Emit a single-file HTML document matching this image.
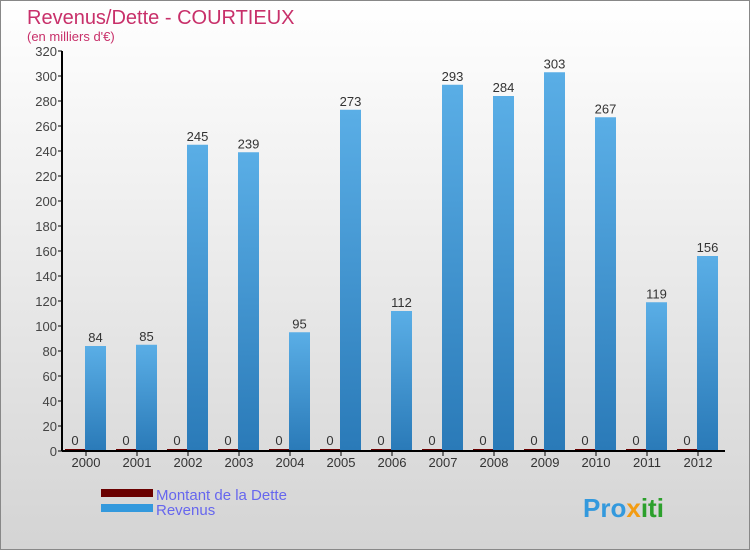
<!DOCTYPE html>
<html><head><meta charset="utf-8"><style>
body{margin:0}
#c{width:748px;height:548px;border:1px solid #888;position:relative;background:linear-gradient(#fff,#d4d4d4);font-family:"Liberation Sans","DejaVu Sans",sans-serif;overflow:hidden}
</style></head><body>
<div id="c">
<svg id="s" width="748" height="548">
<text x="26" y="23" font-size="20" fill="#c8306a">Revenus/Dette - COURTIEUX</text>
<text x="26" y="40" font-size="13" fill="#c8306a">(en milliers d'€)</text>
<g id="g"></g>
<rect x="100" y="488" width="52" height="8" fill="#6a0000"/>
<rect x="100" y="503" width="52" height="8" fill="#3399dd"/>
<text x="155" y="499" font-size="15" fill="#6666ee">Montant de la Dette</text>
<text x="155" y="514" font-size="15" fill="#6666ee">Revenus</text>
<text x="582" y="516" font-size="26" font-weight="600" fill="#3399dd">Pro<tspan fill="#f39c12">x</tspan><tspan fill="#2ca02c">iti</tspan></text>
</svg></div>
<script>
const years=["2000","2001","2002","2003","2004","2005","2006","2007","2008","2009","2010","2011","2012"];
const revenus=[84,85,245,239,95,273,112,293,284,303,267,119,156];
const dette=[0,0,0,0,0,0,0,0,0,0,0,0,0];
const ticks=[0,20,40,60,80,100,120,140,160,180,200,220,240,260,280,300,320];
const NS="http://www.w3.org/2000/svg",g=document.getElementById('g');
const x0=61,step=51,y=v=>450-v*400/320;
function mk(t,a){const e=document.createElementNS(NS,t);for(const k in a)e.setAttribute(k,a[k]);g.appendChild(e);return e;}
const defs=mk('defs',{});defs.innerHTML='<linearGradient id="bg" x1="0" y1="0" x2="0" y2="1"><stop offset="0" stop-color="#5aaee6"/><stop offset="1" stop-color="#2a7ab8"/></linearGradient>';
ticks.forEach(t=>{const l=mk('line',{x1:x0-4,x2:x0,y1:y(t),y2:y(t),stroke:'#000'});

const tx=mk('text',{x:x0-5,y:y(t)+5,'font-size':13,fill:'#444','text-anchor':'end'});tx.textContent=t;
});
years.forEach((yr,i)=>{const sx=x0+i*step;
const d=mk('rect',{x:sx+3,y:y(dette[i])-2,width:20,height:Math.max(2,450-y(dette[i])),fill:'#6a0000'});

const r=mk('rect',{x:sx+23,y:y(revenus[i]),width:21,height:450-y(revenus[i]),fill:'url(#bg)'});

const v=mk('text',{x:sx+33.5,y:y(revenus[i])-4,'font-size':13,fill:'#333','text-anchor':'middle'});v.textContent=revenus[i];

const v2=mk('text',{x:sx+13,y:y(dette[i])-6,'font-size':13,fill:'#333','text-anchor':'middle'});v2.textContent=dette[i];

const tk=mk('line',{x1:sx+24,x2:sx+24,y1:450,y2:455,stroke:'#000'});

const xl=mk('text',{x:sx+24,y:466,'font-size':13,fill:'#333','text-anchor':'middle'});xl.textContent=yr;
});
const ax=mk('line',{x1:x0,x2:x0,y1:50,y2:450,stroke:'#000','stroke-width':2});

const bx=mk('line',{x1:x0,x2:x0+13*step,y1:450,y2:450,stroke:'#000','stroke-width':2});

</script></body></html>
